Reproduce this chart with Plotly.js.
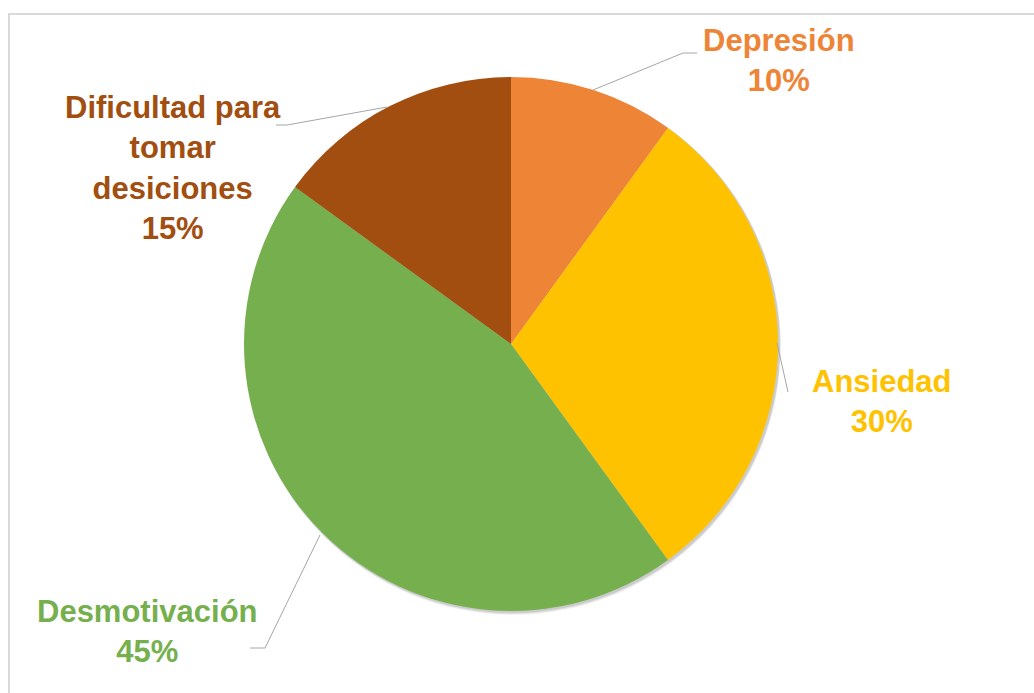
<!DOCTYPE html>
<html>
<head>
<meta charset="utf-8">
<script src="https://cdn.plot.ly/plotly-3.0.1.min.js"></script>
<style>html,body{margin:0;padding:0;background:#fff;}#chart{width:1034px;height:693px;}</style>
</head>
<body>
<div id="chart"></div>
<script>
// ---- data ----
const categories = ["Depresión", "Ansiedad", "Desmotivación", "Dificultad para<br>tomar<br>desiciones"];
const values = [10, 30, 45, 15];
const colors = ["#EE8436", "#FFC200", "#76B04E", "#A14E10"];

// ---- layout helpers (pixel -> paper) ----
const W = 1034, H = 693;
const px = x => x / W;
const py = y => 1 - y / H;

// label placement (layout only)
const labelPos = [
  {x: 779, y: 61, line: [[593, 90], [683, 53], [697, 53]]},
  {x: 882, y: 401, line: [[777, 343], [788, 392]]},
  {x: 147, y: 631, line: [[320, 535], [265, 648], [250, 648]]},
  {x: 173, y: 168, line: [[387, 107], [287, 125], [276, 125]]}
];

const cx = 511, cy = 344, R = 267;
const total = values.reduce((a, b) => a + b, 0);

const annotations = categories.map((c, i) => ({
  xref: "paper", yref: "paper",
  x: px(labelPos[i].x), y: py(labelPos[i].y),
  xanchor: "center", yanchor: "middle",
  text: c + "<br>" + Math.round(values[i] / total * 100) + "%",
  showarrow: false,
  align: "center",
  font: {family: "Arial, 'Liberation Sans', sans-serif", size: 31, color: colors[i], weight: "bold"}
}));

const shapes = [];
// soft shadow behind the pie
[[4, 0.05], [3, 0.07], [2, 0.09]].forEach(([d, op]) => {
  shapes.push({type: "circle", xref: "paper", yref: "paper", layer: "below",
    x0: px(cx - R + 1), x1: px(cx + R + 1 + d / 2), y0: py(cy + R + d), y1: py(cy - R + 1),
    fillcolor: "rgba(0,0,0," + op + ")", line: {width: 0}});
});
labelPos.forEach(l => shapes.push({
  type: "path", xref: "paper", yref: "paper",
  path: l.line.map((p, k) => (k ? "L" : "M") + px(p[0]) + "," + py(p[1])).join(" "),
  line: {color: "#a6a6a6", width: 1}
}));
// chart area border
shapes.push({type: "line", xref: "paper", yref: "paper", x0: px(8), x1: 1, y0: py(14), y1: py(14), line: {color: "#d9d9d9", width: 2}});
shapes.push({type: "line", xref: "paper", yref: "paper", x0: px(9), x1: px(9), y0: py(14), y1: 0, line: {color: "#d9d9d9", width: 2}});

const trace = {
  type: "pie",
  labels: categories,
  values: values,
  marker: {colors: colors, line: {width: 0}},
  sort: false,
  direction: "clockwise",
  rotation: 0,
  textinfo: "none",
  hoverinfo: "none",
  domain: {x: [px(cx - R), px(cx + R)], y: [py(cy + R), py(cy - R)]}
};

Plotly.newPlot("chart", [trace], {
  width: W, height: H,
  margin: {l: 0, r: 0, t: 0, b: 0},
  paper_bgcolor: "#ffffff",
  showlegend: false,
  annotations: annotations,
  shapes: shapes
}, {staticPlot: true});
</script>
</body>
</html>
